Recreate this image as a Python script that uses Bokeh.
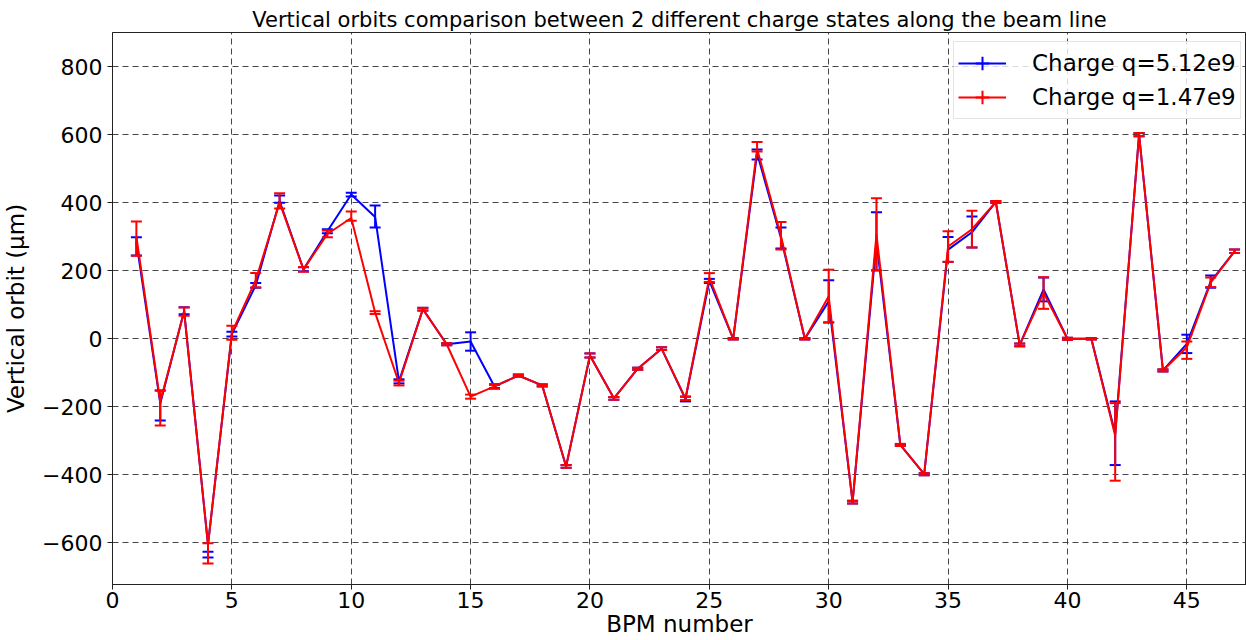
from bokeh.plotting import figure
from bokeh.models import (Range1d, FixedTicker, Legend, LegendItem, ColumnDataSource)
from bokeh.embed import file_html
from bokeh.resources import INLINE

# ---------------- data ----------------
bpm = list(range(1, 48))

blue_y = [285, -190, 82, -605, 14, 157, 405, 204, 316, 424,
          358, -125, 87, -16, -8, -140, -108, -137, -375, -49,
          -175, -88, -29, -177, 170, 0, 545, 296, 0, 110,
          -480, 287, -312, -398, 262, 313, 402, -18, 145, 0,
          0, -278, 600, -93, -15, 168, 257]
blue_lo = [245, -240, 72, -643, 7, 150, 400, 198, 310, 418,
           327, -131, 83, -19, -35, -145, -111, -140, -379, -55,
           -179, -91, -33, -184, 164, -2, 527, 265, -2, 48,
           -484, 201, -315, -401, 226, 268, 399, -22, 110, -3,
           -2, -371, 595, -96, -42, 150, 252]
blue_hi = [298, -152, 93, -626, 21, 164, 421, 210, 322, 429,
           392, -119, 91, -13, 19, -135, -105, -134, -371, -43,
           -171, -85, -25, -170, 176, 2, 556, 327, 2, 172,
           -476, 372, -309, -395, 299, 359, 405, -14, 180, 3,
           2, -184, 605, -90, 12, 186, 262]

red_y = [300, -185, 80, -605, 18, 172, 400, 204, 308, 355,
         77, -130, 87, -16, -170, -140, -108, -137, -375, -49,
         -175, -88, -29, -175, 180, 0, 558, 302, 0, 125,
         -480, 307, -312, -398, 271, 322, 402, -18, 135, 0,
         0, -285, 600, -93, -25, 165, 257]
red_lo = [244, -255, 68, -660, -3, 151, 383, 197, 298, 347,
          73, -137, 83, -19, -176, -147, -111, -140, -379, -55,
          -179, -91, -33, -180, 167, -2, 550, 262, -2, 48,
          -484, 201, -315, -401, 226, 268, 399, -22, 88, -3,
          -2, -417, 595, -96, -59, 152, 252]
red_hi = [345, -152, 92, -601, 38, 193, 428, 211, 318, 374,
          81, -123, 91, -13, -164, -133, -105, -134, -371, -43,
          -171, -85, -25, -170, 193, 2, 578, 343, 2, 203,
          -476, 413, -309, -395, 316, 376, 405, -14, 181, 3,
          2, -189, 605, -90, -8, 180, 262]

series_labels = ["Charge q=5.12e9", "Charge q=1.47e9"]
x_ticks = [0, 5, 10, 15, 20, 25, 30, 35, 40, 45]
y_ticks = [-600, -400, -200, 0, 200, 400, 600, 800]

FONT = "DejaVu Sans"

p = figure(width=1246, height=640, output_backend="svg", toolbar_location=None,
           x_range=Range1d(0, 47.5), y_range=Range1d(-722, 900),
           min_border_left=112, min_border_right=0, min_border_top=32,
           min_border_bottom=56,
           title="Vertical orbits comparison between 2 different charge states along the beam line")

p.title.text_font = FONT
p.title.text_font_size = "21px"
p.title.text_font_style = "normal"
p.title.text_color = "black"
p.title.align = "center"
p.title.standoff = 2
p.title.offset = 6

p.outline_line_color = "#222222"
p.outline_line_width = 1
p.background_fill_color = "white"
p.border_fill_color = "white"

p.xaxis.ticker = FixedTicker(ticks=x_ticks)
p.yaxis.ticker = FixedTicker(ticks=y_ticks)
p.yaxis.major_label_overrides = {t: ("\u2212" + str(-t) if t < 0 else str(t)) for t in y_ticks}

for ax in (p.xaxis[0], p.yaxis[0]):
    ax.axis_line_color = "#222222"
    ax.major_tick_line_color = "#222222"
    ax.major_tick_out = 5
    ax.major_tick_in = 0
    ax.minor_tick_line_color = None
    ax.major_label_text_font = FONT
    ax.major_label_text_font_size = "22px"
    ax.major_label_text_color = "black"
    ax.axis_label_text_font = FONT
    ax.axis_label_text_font_size = "23px"
    ax.axis_label_text_font_style = "normal"
    ax.axis_label_text_color = "black"

p.xaxis.axis_label = "BPM number"
p.yaxis.axis_label = "Vertical orbit (\u00b5m)"
p.xaxis.major_label_standoff = 2
p.yaxis.major_label_standoff = 5
p.xaxis.axis_label_standoff = 0
p.yaxis.axis_label_standoff = 10

for g in (p.xgrid[0], p.ygrid[0]):
    g.grid_line_color = "#333333"
    g.grid_line_dash = "6 4"
    g.grid_line_width = 1
    g.grid_line_alpha = 0.9

legend_items = []
for ys, lo, hi, col, lab in ((blue_y, blue_lo, blue_hi, "#0000ff", series_labels[0]),
                             (red_y, red_lo, red_hi, "#ff0000", series_labels[1])):
    src = ColumnDataSource(dict(x=bpm, y=ys, lo=lo, hi=hi))
    ln = p.line("x", "y", source=src, line_color=col, line_width=2)
    p.segment(x0="x", y0="lo", x1="x", y1="hi", source=src, line_color=col, line_width=2)
    p.scatter("x", "lo", source=src, marker="dash", size=11, line_color=col, line_width=2)
    p.scatter("x", "hi", source=src, marker="dash", size=11, line_color=col, line_width=2)
    # legend-only glyph (error bar symbol), no visible data point
    dummy = p.scatter(x=[float("nan")], y=[float("nan")], marker="cross",
                      size=14, line_color=col, line_width=2)
    legend_items.append(LegendItem(label=lab, renderers=[ln, dummy]))

legend = Legend(items=legend_items, location=(841, 465))
legend.label_text_font = FONT
legend.label_text_font_size = "23px"
legend.label_text_color = "black"
legend.glyph_width = 48
legend.glyph_height = 34
legend.label_height = 34
legend.spacing = 0
legend.padding = 4
legend.label_standoff = 26
legend.border_line_color = "#cccccc"
legend.border_line_width = 1
legend.background_fill_color = "white"
legend.background_fill_alpha = 0.8
p.add_layout(legend)

open("out.html", "w").write(file_html(p, INLINE))
